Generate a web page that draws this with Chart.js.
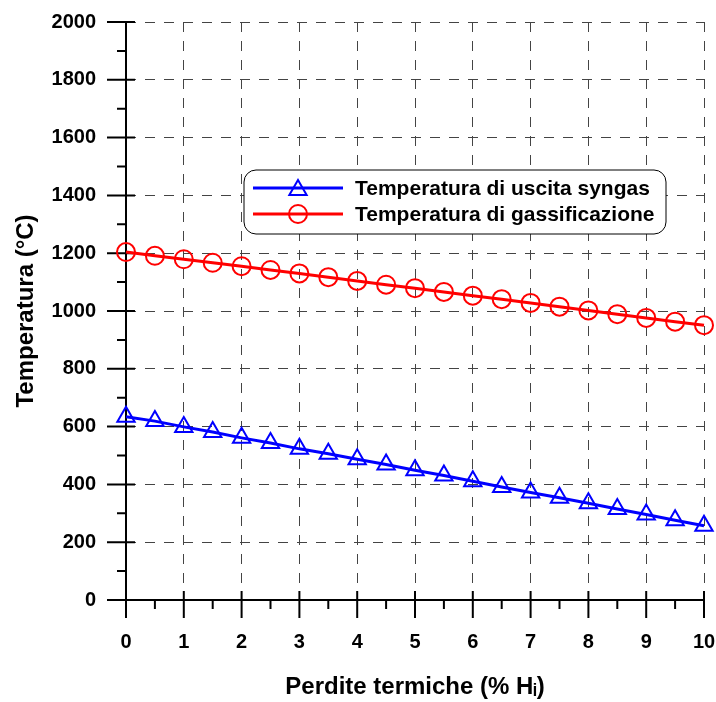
<!DOCTYPE html>
<html>
<head>
<meta charset="utf-8">
<script src="https://cdn.jsdelivr.net/npm/chart.js@4.4.1/dist/chart.umd.min.js"></script>
<style>
  html, body { margin: 0; padding: 0; background: #fff; }
</style>
</head>
<body>
<canvas id="chart" width="716" height="702"></canvas>
<script>
// heat losses, % of lower heating value
const heatLoss = [0, 0.5, 1, 1.5, 2, 2.5, 3, 3.5, 4, 4.5, 5, 5.5, 6, 6.5, 7, 7.5, 8, 8.5, 9, 9.5, 10];
const syngasOutletTemp = [634, 619, 599, 581, 561, 543, 523, 506, 487, 469, 449, 431, 411, 391, 372, 354, 335, 315, 296, 276, 257];
const gasificationTemp = [1204, 1191, 1179, 1167, 1155, 1142, 1130, 1117, 1104, 1091, 1079, 1066, 1053, 1041, 1028, 1015, 1002, 989, 976, 963, 951];

const seriesLabels = ['Temperatura di uscita syngas', 'Temperatura di gassificazione'];
const xTitle = 'Perdite termiche (% H\u1D62)';
const yTitle = 'Temperatura (\u00B0C)';

const FONT = '"Liberation Sans", Arial, sans-serif';

function toPoints(ys) {
    return heatLoss.map((x, i) => ({ x: x, y: ys[i] }));
}

// axis lines with major (crossing) and minor (outside) ticks
const axisFrame = {
    id: 'axisFrame',
    beforeDatasetsDraw(chart) {
        const { ctx, chartArea: a, scales: { x, y } } = chart;
        ctx.save();
        ctx.strokeStyle = '#000';
        ctx.lineWidth = 2;
        ctx.beginPath();
        ctx.moveTo(a.left, a.top);
        ctx.lineTo(a.left, a.bottom);
        ctx.lineTo(a.right, a.bottom);

        for (let i = 0; i <= 20; i++) {
            let px = x.getPixelForValue(x.min + i * 0.5);
            let major = i % 2 == 0;
            ctx.moveTo(px, a.bottom - (major ? 9 : 0));
            ctx.lineTo(px, a.bottom + (major ? 18 : 9));
        }
        for (let i = 0; i <= 20; i++) {
            let py = y.getPixelForValue(y.min + i * 100);
            let major = i % 2 == 0;
            ctx.moveTo(a.left - (major ? 19 : 9), py);
            ctx.lineTo(a.left + (major ? 9 : 0), py);
        }
        ctx.stroke();
        ctx.restore();
    }
};

function drawMarker(ctx, style, cx, cy, r) {
    ctx.beginPath();
    if (style == 'triangle') {
        ctx.moveTo(cx, cy - r);
        ctx.lineTo(cx + r * Math.sin(Math.PI * 2 / 3), cy + r / 2);
        ctx.lineTo(cx - r * Math.sin(Math.PI * 2 / 3), cy + r / 2);
        ctx.closePath();
    } else {
        ctx.arc(cx, cy, r, 0, Math.PI * 2);
    }
    ctx.stroke();
}

// boxed legend inside the plot
const boxLegend = {
    id: 'boxLegend',
    afterDraw(chart, args, opts) {
        const ctx = chart.ctx;
        ctx.save();
        ctx.beginPath();
        ctx.roundRect(opts.left, opts.top, opts.width, opts.height, 12);
        ctx.fillStyle = '#fff';
        ctx.fill();
        ctx.lineWidth = 1;
        ctx.strokeStyle = '#000';
        ctx.stroke();

        chart.data.datasets.forEach((ds, i) => {
            let rowY = opts.top + 18 + i * 26;
            let x0 = opts.left + 9;
            ctx.strokeStyle = ds.borderColor;
            ctx.lineWidth = 3;
            ctx.beginPath();
            ctx.moveTo(x0, rowY);
            ctx.lineTo(x0 + 90, rowY);
            ctx.stroke();
            ctx.lineWidth = 2;
            drawMarker(ctx, ds.pointStyle, x0 + 45, rowY + (ds.pointStyle == 'triangle' ? 2 : 0), ds.pointRadius);

            ctx.fillStyle = '#000';
            ctx.font = 'bold 21px ' + FONT;
            ctx.textBaseline = 'middle';
            ctx.fillText(ds.label, x0 + 102, rowY + 1);
        });
        ctx.restore();
    }
};

const config = {
    type: 'line',
    data: {
        datasets: [
            {
                label: seriesLabels[0],
                data: toPoints(syngasOutletTemp),
                borderColor: '#0000ff',
                borderWidth: 3,
                pointStyle: 'triangle',
                pointRadius: 10,
                pointBorderWidth: 2,
                pointBorderColor: '#0000ff',
                pointBackgroundColor: 'rgba(0,0,0,0)',
                clip: false,
            },
            {
                label: seriesLabels[1],
                data: toPoints(gasificationTemp),
                borderColor: '#ff0000',
                borderWidth: 3,
                pointStyle: 'circle',
                pointRadius: 9,
                pointBorderWidth: 2,
                pointBorderColor: '#ff0000',
                pointBackgroundColor: 'rgba(0,0,0,0)',
                clip: false,
            }
        ]
    },
    options: {
        responsive: false,
        animation: false,
        events: [],
        layout: { padding: { top: 22, right: 12, left: 0, bottom: 0 } },
        scales: {
            x: {
                type: 'linear',
                min: 0,
                max: 10,
                ticks: {
                    stepSize: 1,
                    padding: 30,
                    color: '#000',
                    font: { family: FONT, size: 20, weight: 'bold' },
                    callback: (v) => String(v),
                },
                grid: { color: '#444', lineWidth: 1, drawTicks: false },
                border: { display: false, dash: [10, 9] },
                title: {
                    display: true,
                    text: xTitle,
                    color: '#000',
                    font: { family: FONT, size: 24, weight: 'bold' },
                    padding: { top: 0, bottom: 0 },
                },
                afterFit(scale) {
                    scale.height = 102;
                    scale.paddingLeft = 0;
                    scale.paddingRight = 0;
                },
            },
            y: {
                min: 0,
                max: 2000,
                ticks: {
                    stepSize: 200,
                    padding: 30,
                    color: '#000',
                    font: { family: FONT, size: 20, weight: 'bold' },
                    callback: (v) => String(v),
                },
                grid: { color: '#444', lineWidth: 1, drawTicks: false },
                border: { display: false, dash: [10, 9] },
                title: {
                    display: true,
                    text: yTitle,
                    color: '#000',
                    font: { family: FONT, size: 24, weight: 'bold' },
                    padding: { top: 12, bottom: 0 },
                },
                afterFit(scale) {
                    scale.width = 126;
                    scale.paddingTop = 0;
                    scale.paddingBottom = 0;
                },
            }
        },
        plugins: {
            legend: { display: false },
            tooltip: { enabled: false },
            boxLegend: { left: 244, top: 170, width: 422, height: 64 },
        }
    },
    plugins: [axisFrame, boxLegend]
};

new Chart(document.getElementById('chart'), config);
</script>
</body>
</html>
